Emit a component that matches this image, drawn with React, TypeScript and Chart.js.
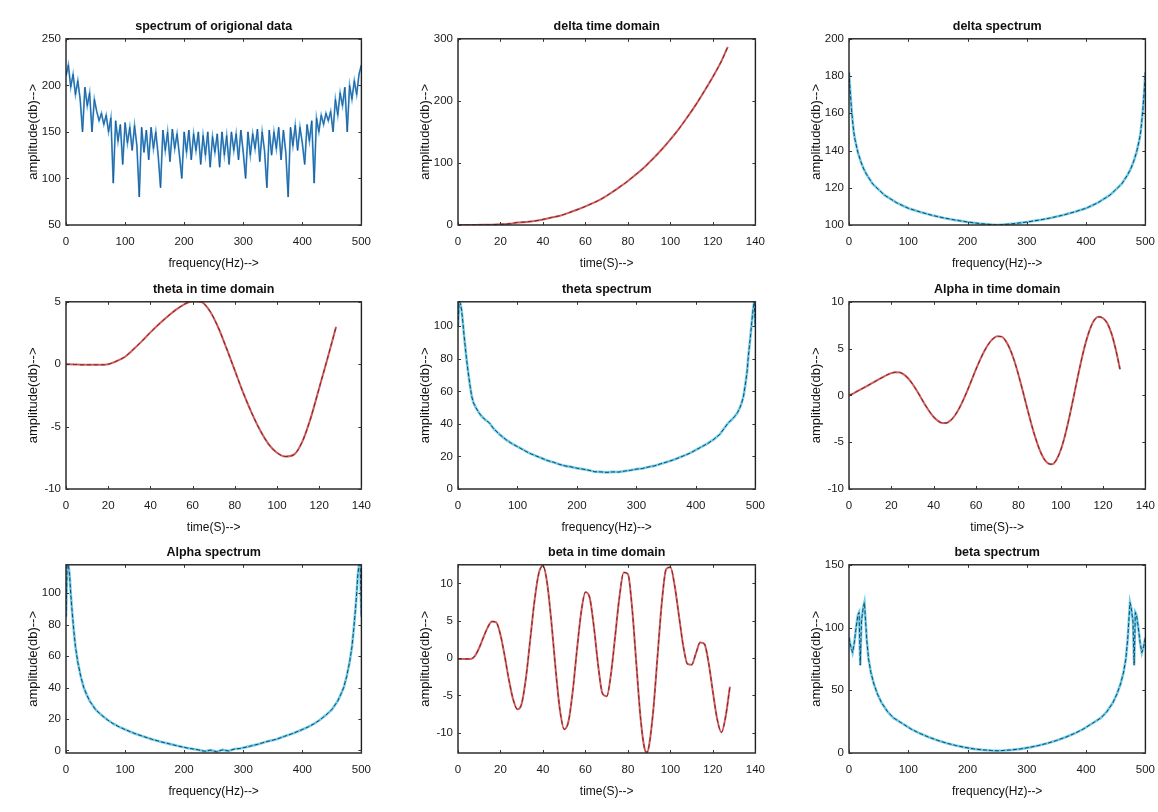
import React, { useEffect, useRef } from 'react';
import { Chart, registerables } from 'chart.js';

Chart.register(...registerables);

// ---------------- DATA ----------------
// 1. spectrum of original data (frequency step 4 Hz, 0..500)
const origAmp = [
  210, 222, 198, 212, 190, 205, 185, 150, 198, 178,
  192, 150, 185, 172, 162, 170, 158, 168, 150, 165,
  95, 162, 140, 158, 115, 160, 138, 155, 130, 157,
  135, 80, 155, 128, 152, 120, 155, 132, 150, 125,
  90, 152, 130, 150, 118, 153, 132, 148, 125, 100,
  150, 128, 152, 120, 148, 130, 150, 115, 146, 125,
  150, 112, 145, 128, 148, 112, 150, 125, 146, 115,
  150, 130, 148, 120, 152, 128, 100, 150, 125, 148,
  132, 153, 118, 150, 130, 90, 152, 125, 150, 132,
  155, 120, 152, 128, 80, 155, 135, 157, 130, 155,
  138, 115, 158, 140, 162, 95, 165, 150, 168, 158,
  170, 162, 172, 150, 185, 168, 192, 178, 198, 150,
  200, 185, 205, 190, 212, 222,
];
const ORIG_STEP = 4;
const origFreq = origAmp.map((_, i) => i * ORIG_STEP);

// 2. delta time domain
const deltaTime = [0, 4, 8, 12, 16, 20, 24, 28, 32, 36, 40, 44, 48, 52, 56, 60, 64, 68, 72, 76, 80, 84, 88, 92, 96, 100, 104, 108, 112, 116, 120, 124, 127];
const deltaAmp = [0, 0, 0.1, 0.3, 0.6, 1.2, 2, 4, 5, 6.5, 9, 12, 15, 19.5, 24.5, 30, 36, 43, 51.5, 61, 71, 82, 94, 107.5, 122, 138, 155, 174, 194, 216, 239, 264, 287];

// 3. delta spectrum
const deltaSpecFreq = [0, 2, 4, 6, 8, 10, 15, 20, 25, 30, 40, 50, 60, 70, 80, 90, 100, 120, 140, 160, 180, 200, 220, 240, 250, 260, 280, 300, 320, 340, 360, 380, 400, 410, 420, 430, 440, 450, 460, 470, 475, 480, 485, 490, 492, 494, 496, 498, 500];
const deltaSpecAmp = [182, 172, 163, 156, 150, 146, 139, 134, 130, 127, 122, 119, 116, 114, 112, 110.5, 109, 107, 105.2, 103.8, 102.6, 101.6, 100.8, 100.2, 100, 100.2, 100.8, 101.6, 102.6, 103.8, 105.2, 107, 109, 110.5, 112, 114, 116, 119, 122, 127, 130, 134, 139, 146, 150, 156, 163, 172, 182];

// 4. theta in time domain
const thetaTime = [0, 4, 8, 12, 16, 20, 24, 28, 32, 36, 40, 44, 48, 52, 56, 60, 64, 68, 72, 76, 80, 84, 88, 92, 96, 100, 104, 108, 112, 116, 120, 124, 128];
const thetaAmp = [0, -0.02, -0.05, -0.05, -0.05, 0, 0.25, 0.6, 1.2, 1.85, 2.55, 3.2, 3.8, 4.35, 4.8, 5.05, 5.0, 4.3, 3.0, 1.3, -0.5, -2.3, -3.9, -5.3, -6.4, -7.1, -7.4, -7.25, -6.2, -4.3, -1.9, 0.5, 3.0];

// 5. theta spectrum
const thetaSpecFreq = [0, 2, 4, 6, 8, 10, 12, 14, 17, 20, 23, 26, 30, 35, 40, 46, 53, 60, 70, 80, 90, 100, 110, 120, 130, 140, 150, 160, 170, 180, 190, 200, 210, 220, 230, 240, 250, 260, 270, 280, 290, 300, 310, 320, 330, 340, 350, 360, 370, 380, 390, 400, 410, 420, 430, 440, 447, 454, 460, 465, 470, 474, 477, 480, 483, 486, 488, 490, 492, 494, 496, 498, 500];
const thetaSpecAmp = [100, 115, 114, 110, 103, 95, 88, 81, 72, 64, 57, 53, 50, 47, 44.5, 42.5, 40.5, 37, 33.5, 30.5, 28, 26, 24, 22, 20.5, 19, 17.5, 16.5, 15.2, 14.2, 13.6, 12.8, 12.2, 11.5, 10.6, 10.5, 10.2, 10.5, 10.4, 11, 11.5, 12.2, 12.6, 13.5, 14.2, 15.4, 16.5, 17.6, 19, 20.5, 22, 24, 26, 28, 30.5, 33.5, 37, 40.5, 42.5, 44.5, 47, 50, 53, 57, 64, 72, 81, 88, 95, 103, 110, 115, 100];

// 6. Alpha in time domain (step 2 s)
const alphaTime = [0, 2, 4, 6, 8, 10, 12, 14, 16, 18, 20, 22, 24, 26, 28, 30, 32, 34, 36, 38, 40, 42, 44, 46, 48, 50, 52, 54, 56, 58, 60, 62, 64, 66, 68, 70, 72, 74, 76, 78, 80, 82, 84, 86, 88, 90, 92, 94, 96, 98, 100, 102, 104, 106, 108, 110, 112, 114, 116, 118, 120, 122, 124, 126, 128];
const alphaAmp = [
  0, 0.2, 0.45, 0.7, 0.95, 1.2, 1.45, 1.7, 1.95, 2.2,
  2.38, 2.47, 2.45, 2.22, 1.81, 1.22, 0.52, -0.25, -1.02, -1.72,
  -2.31, -2.72, -2.94, -2.94, -2.67, -2.15, -1.4, -0.48, 0.57, 1.69,
  2.8, 3.85, 4.77, 5.52, 6.04, 6.31, 6.28, 5.83, 4.97, 3.75,
  2.23, 0.54, -1.23, -2.94, -4.49, -5.79, -6.74, -7.26, -7.36, -6.87,
  -5.83, -4.3, -2.39, -0.27, 1.92, 4.0, 5.8, 7.2, 8.09, 8.39,
  8.25, 7.7, 6.6, 4.9, 2.8,
];

// 7. Alpha spectrum
const alphaSpecFreq = [0, 2, 4, 6, 8, 10, 13, 16, 20, 25, 30, 35, 40, 50, 60, 70, 80, 90, 100, 115, 130, 145, 160, 175, 190, 205, 215, 225, 235, 245, 255, 265, 275, 285, 295, 310, 325, 340, 355, 370, 385, 400, 410, 420, 430, 440, 450, 460, 465, 470, 475, 480, 484, 487, 490, 492, 494, 496, 498, 500];
const alphaSpecAmp = [85, 118, 118, 112, 100, 90, 77, 66, 56, 47, 40, 35.5, 31.5, 26, 22.5, 19.5, 17, 15, 13.3, 11, 9, 7.2, 5.6, 4.2, 2.8, 1.6, 1.0, 0.3, -0.5, 0.2, -0.8, 0.4, -0.3, 0.9, 1.3, 2.6, 4.0, 5.7, 7.0, 9, 11, 13.3, 15, 17, 19.5, 22.5, 26, 31.5, 35.5, 40, 47, 56, 66, 77, 90, 100, 112, 118, 118, 85];

// 8. beta in time domain (step 2 s)
const betaTime = [0, 2, 4, 6, 8, 10, 12, 14, 16, 18, 20, 22, 24, 26, 28, 30, 32, 34, 36, 38, 40, 42, 44, 46, 48, 50, 52, 54, 56, 58, 60, 62, 64, 66, 68, 70, 72, 74, 76, 78, 80, 82, 84, 86, 88, 89, 90, 92, 94, 96, 98, 100, 102, 104, 106, 108, 110, 112, 114, 116, 118, 120, 122, 124, 126, 128];
const betaAmp = [
  -0.1, -0.1, -0.1, -0.1, 0.3, 1.39, 2.81, 4.12, 4.9, 4.78,
  3.11, 0.26, -2.95, -5.57, -6.85, -6.06, -2.62, 2.48, 7.65, 11.32,
  12.36, 9.99, 4.74, -1.62, -6.97, -9.52, -8.49, -4.45, 1.12, 6.17,
  8.84, 8.08, 4.13, -1.02, -4.72, -5.11, -2.15, 2.98, 8.2, 11.47,
  11.26, 6.56, -0.94, -8.21, -12.29, -12.6, -11.62, -6.76, 0.53, 7.61, 11.92,
  12.17, 9.7, 5.7, 1.7, -0.77, -0.87, 0.64, 2.11, 1.9, -0.66,
  -4.56, -8.16, -9.94, -7.8, -3.8,
];

// 9. beta spectrum
const betaSpecFreq = [0, 3, 6, 9, 12, 15, 17, 19, 21, 24, 26, 28, 30, 33, 37, 42, 48, 55, 65, 75, 90, 105, 120, 135, 150, 165, 180, 195, 210, 225, 240, 250, 260, 275, 290, 305, 320, 335, 350, 365, 380, 395, 410, 425, 435, 445, 452, 458, 463, 467, 470, 472, 474, 476, 479, 481, 483, 485, 488, 491, 494, 497, 500];
const betaSpecAmp = [92, 85, 80, 88, 100, 110, 112, 70, 105, 116, 120, 105, 90, 75, 64, 55, 47, 40, 33, 28, 23.5, 19, 15.5, 12.5, 10, 7.8, 6, 4.5, 3.3, 2.5, 2, 1.8, 2, 2.5, 3.3, 4.5, 6, 7.8, 10, 12.5, 15.5, 19, 23.5, 28, 33, 40, 47, 55, 64, 75, 90, 105, 120, 116, 105, 70, 112, 110, 100, 88, 80, 85, 92];

// ---------------- LAYOUT / STYLE ----------------
const COLS = [[66, 363], [458, 757], [849, 1147]];
const ROWS = [[39, 225], [302, 489], [565, 753]];
const Y_W = 60;
const RIGHT_PAD = 18;
const TITLE_SIZE = 12.5;
const TITLE_PAD_TOP = 2;
const TITLE_PAD_BOTTOM = 4.8;
const TOP_H = TITLE_PAD_TOP + TITLE_SIZE * 1.2 + TITLE_PAD_BOTTOM;
const X_H = 46;
const FONT = "'Liberation Sans', Arial, Helvetica, sans-serif";

type Kind = 'orig' | 'time' | 'spec';
interface Panel {
  title: string;
  xLabel: string;
  xs: number[];
  ys: number[];
  xMin: number; xMax: number; xStep: number;
  yMin: number; yMax: number; yStep: number;
  kind: Kind;
}

const FREQ = 'frequency(Hz)-->';
const TIME = 'time(S)-->';
const AMP = 'amplitude(db)-->';

const PANELS: Panel[] = [
  { title: 'spectrum of origional data', xLabel: FREQ, xs: origFreq, ys: origAmp, xMin: 0, xMax: 500, xStep: 100, yMin: 50, yMax: 250, yStep: 50, kind: 'orig' },
  { title: 'delta time domain', xLabel: TIME, xs: deltaTime, ys: deltaAmp, xMin: 0, xMax: 140, xStep: 20, yMin: 0, yMax: 300, yStep: 100, kind: 'time' },
  { title: 'delta spectrum', xLabel: FREQ, xs: deltaSpecFreq, ys: deltaSpecAmp, xMin: 0, xMax: 500, xStep: 100, yMin: 100, yMax: 200, yStep: 20, kind: 'spec' },
  { title: 'theta in time domain', xLabel: TIME, xs: thetaTime, ys: thetaAmp, xMin: 0, xMax: 140, xStep: 20, yMin: -10, yMax: 5, yStep: 5, kind: 'time' },
  { title: 'theta spectrum', xLabel: FREQ, xs: thetaSpecFreq, ys: thetaSpecAmp, xMin: 0, xMax: 500, xStep: 100, yMin: 0, yMax: 115, yStep: 20, kind: 'spec' },
  { title: 'Alpha in time domain', xLabel: TIME, xs: alphaTime, ys: alphaAmp, xMin: 0, xMax: 140, xStep: 20, yMin: -10, yMax: 10, yStep: 5, kind: 'time' },
  { title: 'Alpha spectrum', xLabel: FREQ, xs: alphaSpecFreq, ys: alphaSpecAmp, xMin: 0, xMax: 500, xStep: 100, yMin: -1.6, yMax: 118, yStep: 20, kind: 'spec' },
  { title: 'beta in time domain', xLabel: TIME, xs: betaTime, ys: betaAmp, xMin: 0, xMax: 140, xStep: 20, yMin: -12.7, yMax: 12.5, yStep: 5, kind: 'time' },
  { title: 'beta spectrum', xLabel: FREQ, xs: betaSpecFreq, ys: betaSpecAmp, xMin: 0, xMax: 500, xStep: 100, yMin: 0, yMax: 150, yStep: 50, kind: 'spec' },
];

const boxPlugin = {
  id: 'matlabBox',
  afterDatasetsDraw(chart: any) {
    const { ctx, chartArea: a, scales } = chart;
    ctx.save();
    ctx.strokeStyle = '#1e1e1e';
    ctx.lineWidth = 1.4;
    ctx.strokeRect(a.left, a.top, a.right - a.left, a.bottom - a.top);
    ctx.lineWidth = 1;
    ctx.strokeStyle = '#333';
    const len = 3;
    ctx.beginPath();
    for (const t of scales.x.ticks) {
      const px = Math.round(scales.x.getPixelForValue(t.value)) + 0.5;
      ctx.moveTo(px, a.bottom); ctx.lineTo(px, a.bottom - len);
      ctx.moveTo(px, a.top); ctx.lineTo(px, a.top + len);
    }
    for (const t of scales.y.ticks) {
      const py = Math.round(scales.y.getPixelForValue(t.value)) + 0.5;
      ctx.moveTo(a.left, py); ctx.lineTo(a.left + len, py);
      ctx.moveTo(a.right, py); ctx.lineTo(a.right - len, py);
    }
    ctx.stroke();
    ctx.restore();
  },
};

// Dataset 0 is drawn on top in Chart.js, so the thin dark trace comes first.
function datasetsFor(p: Panel) {
  const pts = p.xs.map((x, i) => ({ x, y: p.ys[i] }));
  if (p.kind === 'orig') {
    return [
      { data: pts, borderColor: 'rgba(25,70,130,0.85)', borderWidth: 0.8, pointRadius: 0, tension: 0 },
      { data: pts, borderColor: '#4fa6dd', borderWidth: 1.8, pointRadius: 0, tension: 0 },
    ];
  }
  if (p.kind === 'time') {
    return [
      { data: pts, borderColor: 'rgba(70,30,30,0.85)', borderWidth: 0.9, borderDash: [4, 3], pointRadius: 0, cubicInterpolationMode: 'monotone' as const },
      { data: pts, borderColor: '#d85c5c', borderWidth: 2, pointRadius: 0, cubicInterpolationMode: 'monotone' as const },
    ];
  }
  return [
    { data: pts, borderColor: 'rgba(25,50,75,0.9)', borderWidth: 1, borderDash: [4, 2], pointRadius: 0, tension: 0 },
    { data: pts, borderColor: '#6fd0ee', borderWidth: 2.6, pointRadius: 0, tension: 0 },
  ];
}

function PanelChart({ p, idx }: { p: Panel; idx: number }) {
  const ref = useRef<HTMLCanvasElement | null>(null);
  const col = COLS[idx % 3];
  const row = ROWS[Math.floor(idx / 3)];
  const plotW = col[1] - col[0];
  const plotH = row[1] - row[0];
  const width = Y_W + plotW + RIGHT_PAD;
  const height = Math.round(TOP_H + plotH + X_H);
  const left = col[0] - Y_W;
  const top = row[0] - TOP_H;

  useEffect(() => {
    if (!ref.current) return;
    const chart = new Chart(ref.current, {
      type: 'line',
      data: { datasets: datasetsFor(p) as any },
      options: {
        animation: false,
        responsive: false,
        maintainAspectRatio: false,
        layout: { padding: { left: 0, right: RIGHT_PAD, top: 0, bottom: 0 } },
        plugins: {
          legend: { display: false },
          tooltip: { enabled: false },
          title: {
            display: true,
            text: p.title,
            fullSize: false,
            color: '#111',
            font: { family: FONT, size: TITLE_SIZE, weight: 'bold', lineHeight: 1.2 },
            padding: { top: TITLE_PAD_TOP, bottom: TITLE_PAD_BOTTOM },
          },
        },
        scales: {
          x: {
            type: 'linear',
            min: p.xMin,
            max: p.xMax,
            grid: { display: false, drawTicks: false },
            border: { display: false },
            ticks: {
              stepSize: p.xStep,
              autoSkip: false,
              includeBounds: false,
              maxRotation: 0,
              padding: 10,
              color: '#1a1a1a',
              font: { family: FONT, size: 11.5 },
            },
            title: {
              display: true,
              text: p.xLabel,
              color: '#111',
              font: { family: FONT, size: 12, lineHeight: 1.2 },
              padding: { top: 0, bottom: 0 },
            },
            afterFit: (s: any) => { s.height = X_H; },
          },
          y: {
            type: 'linear',
            min: p.yMin,
            max: p.yMax,
            grid: { display: false, drawTicks: false },
            border: { display: false },
            ticks: {
              stepSize: p.yStep,
              autoSkip: false,
              includeBounds: false,
              padding: 5,
              color: '#1a1a1a',
              font: { family: FONT, size: 11.5 },
            },
            title: {
              display: true,
              text: AMP,
              color: '#111',
              font: { family: FONT, size: 13, lineHeight: 1.2 },
              padding: { top: 19.2, bottom: 0 },
            },
            afterFit: (s: any) => { s.width = Y_W; },
          },
        },
        elements: { point: { radius: 0 } },
      } as any,
      plugins: [boxPlugin],
    });
    return () => chart.destroy();
  }, [p]);

  return (
    <canvas
      ref={ref}
      width={width}
      height={height}
      style={{ position: 'absolute', left, top, width, height }}
    />
  );
}

export default function App() {
  return (
    <div style={{ position: 'absolute', left: 0, top: 0, width: 1158, height: 812, background: '#ffffff', overflow: 'hidden' }}>
      {PANELS.map((p, i) => (
        <PanelChart key={i} p={p} idx={i} />
      ))}
    </div>
  );
}
